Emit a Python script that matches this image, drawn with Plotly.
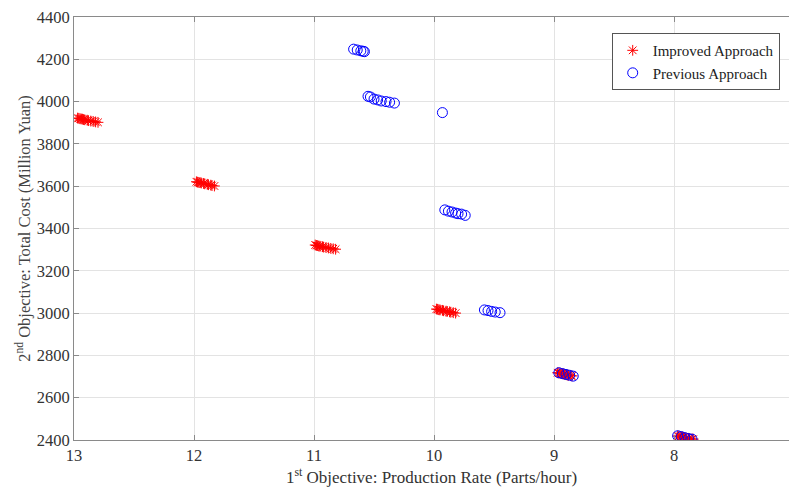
import plotly.graph_objects as go

# Improved approach (red asterisks)
improved_x = [12.97, 12.96, 12.95, 12.94, 12.93, 12.92, 12.91, 12.89, 12.88, 12.86, 12.84, 12.82, 12.80,
              11.98, 11.97, 11.96, 11.95, 11.94, 11.92, 11.91, 11.89, 11.88, 11.86, 11.85, 11.83,
              10.99, 10.98, 10.97, 10.96, 10.95, 10.93, 10.92, 10.90, 10.88, 10.86, 10.84, 10.82,
              9.98, 9.97, 9.96, 9.95, 9.93, 9.92, 9.90, 9.89, 9.87, 9.86, 9.84, 9.82,
              8.97, 8.96, 8.95, 8.94, 8.93, 8.92, 8.91, 8.90, 8.89, 8.88, 8.86, 8.85,
              7.97, 7.96, 7.95, 7.94, 7.93, 7.92, 7.91, 7.90, 7.88, 7.87, 7.85, 7.84]
improved_y = [3922, 3921, 3919, 3918, 3917, 3915, 3914, 3912, 3910, 3908, 3906, 3904, 3902,
              3621, 3619, 3618, 3617, 3615, 3613, 3611, 3609, 3607, 3605, 3603, 3601,
              3322, 3320, 3319, 3317, 3316, 3314, 3312, 3310, 3308, 3306, 3304, 3302,
              3019, 3018, 3016, 3015, 3013, 3011, 3009, 3008, 3006, 3004, 3002, 3000,
              2718, 2717, 2716, 2714, 2713, 2712, 2710, 2709, 2707, 2706, 2704, 2703,
              2419, 2418, 2416, 2415, 2414, 2412, 2411, 2409, 2408, 2406, 2405, 2404]

# Previous approach (blue circles)
previous_x = [10.67, 10.64, 10.61, 10.59, 10.58,
              10.55, 10.53, 10.50, 10.47, 10.44, 10.40, 10.37, 10.33,
              9.93,
              9.91, 9.88, 9.85, 9.82, 9.80, 9.77, 9.74,
              9.58, 9.55, 9.52, 9.49, 9.45,
              8.96, 8.93, 8.90, 8.87, 8.84,
              7.97, 7.94, 7.91, 7.88, 7.85]
previous_y = [4248, 4244, 4240, 4238, 4236,
              4025, 4022, 4012, 4008, 4003, 4000, 3997, 3993,
              3948,
              3488, 3482, 3478, 3473, 3470, 3468, 3462,
              3015, 3012, 3008, 3005, 3002,
              2718, 2714, 2710, 2706, 2702,
              2420, 2416, 2411, 2407, 2404]

x_ticks = [13, 12, 11, 10, 9, 8]
y_ticks = [2400, 2600, 2800, 3000, 3200, 3400, 3600, 3800, 4000, 4200, 4400]

font_family = "Liberation Serif, Times New Roman, serif"

fig = go.Figure()
fig.add_trace(go.Scatter(
    x=improved_x, y=improved_y, mode="markers", name="Improved Approach",
    marker=dict(symbol="asterisk-open", size=9, color="red",
                line=dict(color="red", width=1)),
))
fig.add_trace(go.Scatter(
    x=previous_x, y=previous_y, mode="markers", name="Previous Approach",
    marker=dict(symbol="circle-open", size=10, color="blue",
                line=dict(color="blue", width=1)),
))

fig.update_layout(
    width=789, height=490,
    margin=dict(l=74, r=0, t=17, b=50),
    paper_bgcolor="white", plot_bgcolor="white",
    font=dict(family=font_family, size=16, color="#333333"),
    showlegend=True,
    legend=dict(
        x=0.987, y=0.962, xanchor="right", yanchor="top",
        bgcolor="white", bordercolor="#555555", borderwidth=1,
        font=dict(family=font_family, size=15, color="#222222"),
        tracegroupgap=0,
        itemwidth=30,
    ),
    xaxis=dict(
        range=[13, 7.042], tickvals=x_ticks, ticktext=[str(v) for v in x_ticks],
        showgrid=True, gridcolor="#e3e3e3", gridwidth=1,
        showline=True, linecolor="#8a8a8a", linewidth=1, mirror="ticks",
        ticks="inside", ticklen=5, tickcolor="#8a8a8a",
        zeroline=False, automargin=False,
        tickfont=dict(family=font_family, size=16.5, color="#333333"),
        title=dict(text="1<sup>st</sup> Objective: Production Rate (Parts/hour)",
                   font=dict(family=font_family, size=17, color="#333333"), standoff=5),
    ),
    yaxis=dict(
        range=[2400, 4400], tickvals=y_ticks, ticktext=[str(v) for v in y_ticks],
        showgrid=True, gridcolor="#e3e3e3", gridwidth=1,
        showline=True, linecolor="#8a8a8a", linewidth=1,
        ticks="inside", ticklen=5, tickcolor="#8a8a8a",
        zeroline=False, automargin=False,
        tickfont=dict(family=font_family, size=16.5, color="#333333"),
        title=dict(text="2<sup>nd</sup> Objective: Total Cost (Million Yuan)",
                   font=dict(family=font_family, size=16.5, color="#444444"), standoff=1),
    ),
)

fig.write_html("out.html", config={"displayModeBar": False},
               post_script="document.body.style.margin='0px';document.body.style.overflow='hidden';")
